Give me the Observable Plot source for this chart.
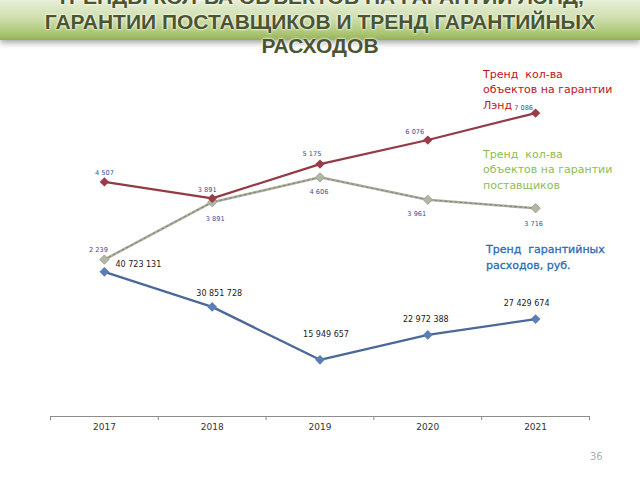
<!DOCTYPE html>
<html><head><meta charset="utf-8">
<script src="https://cdn.jsdelivr.net/npm/d3@7"></script>
<script src="https://cdn.jsdelivr.net/npm/@observablehq/plot@0.6"></script>
<style>
body{margin:0;background:#fff;width:640px;height:480px;overflow:hidden;position:relative;font-family:"DejaVu Sans",sans-serif}
#title{position:relative;height:58px;overflow:hidden}
#banner{position:absolute;left:0;top:0;width:640px;height:40px;background:linear-gradient(to bottom,#e6eed6 0%,#cfdfae 45%,#a9c470 85%,#94b056 100%);box-shadow:0 3px 6px rgba(0,0,0,.35)}
#ttext{position:absolute;left:0;width:640px;top:-15px;text-align:center;font:bold 21px/24.6px "Liberation Sans",Arial,sans-serif;color:#4b5530;text-shadow:0 0 3px #fff,0 0 2px rgba(255,255,255,.9)}
svg{display:block}
.leg{position:absolute;white-space:pre;font-size:11px;line-height:15.3px;font-family:"DejaVu Sans",sans-serif}
#page{position:absolute;left:590px;top:451px;font-size:10px;color:#b0b0b0;font-family:"DejaVu Sans",sans-serif}
</style></head>
<body>
<div id="title"><div id="banner"></div><div id="ttext">ТРЕНДЫ КОЛ-ВА ОБЪЕКТОВ НА ГАРАНТИИ ЛЭНД,<br>ГАРАНТИИ ПОСТАВЩИКОВ И ТРЕНД ГАРАНТИЙНЫХ<br>РАСХОДОВ</div></div>
<div id="chart"></div>
<div class="leg" style="left:483px;top:67px;color:#c0141c">Тренд  кол-ва
объектов на гарантии
Лэнд</div>
<div class="leg" style="left:483px;top:147px;color:#8dbd4f">Тренд  кол-ва
объектов на гарантии
поставщиков</div>
<div class="leg" style="left:486px;top:242px;color:#2b6cb5;line-height:15.7px;-webkit-text-stroke:0.3px #2b6cb5">Тренд  гарантийных
расходов, руб.</div>
<div id="page">36</div>
<script>
// data
const years = [2017, 2018, 2019, 2020, 2021];
const landCounts = [4507, 3891, 5175, 6076, 7086];
const supplierCounts = [2239, 3891, 4606, 3961, 3716];
const warrantyCosts = [40723131, 30851728, 15949657, 22972388, 27429674];
// hidden axes (each series on its own value axis, as in the original)
const costAxis = [0, 100.2e6];
const landAxis = [-4275, 9054];
const supplierAxis = [-2277, 7969];

const bounds = [2016.5, 2017.5, 2018.5, 2019.5, 2020.5, 2021.5];
const fmt = d3.formatLocale({decimal: ",", thousands: " ", grouping: [3], currency: ["", ""]}).format(",d");

function rows(values, axis) {
  const s = d3.scaleLinear().domain(axis).range([0, 1]);
  return years.map((year, i) => ({year, value: values[i], yn: s(values[i]), label: fmt(values[i])}));
}
const land = rows(landCounts, landAxis);
const supp = rows(supplierCounts, supplierAxis);
const cost = rows(warrantyCosts, costAxis);

// label offsets (style)
const landOff = [[0, -9], [-5, -9], [-8, -10], [-13, -8], [-12, -5]];
const suppOff = [[-6, -10], [3, 17], [-1, 15], [-11, 14], [-2, 16]];
const costOff = [[34, -7], [7, -13], [6, -25], [-2, -15], [-9, -16]];

function labels(data, offs, opts) {
  return offs.map(([dx, dy], i) => Plot.text([data[i]], {x: "year", y: "yn", text: "label", dx, dy, lineAnchor: "middle", ...opts}));
}

const chart = Plot.plot({
  width: 640, height: 422,
  marginTop: 2, marginBottom: 64, marginLeft: 50, marginRight: 51,
  x: {type: "linear", domain: [2016.5, 2021.5], label: null},
  y: {domain: [0, 1], axis: null},
  style: {fontFamily: "DejaVu Sans, sans-serif", background: "transparent"},
  marks: [
    Plot.ruleY([0], {stroke: "#8c8c8c", strokeWidth: 1}),
    Plot.axisX({ticks: bounds, tickSize: 4, tickFormat: () => "", stroke: "#8c8c8c"}),
    Plot.axisX({ticks: years, tickSize: 0, tickPadding: 7, tickFormat: d => String(d), fontSize: 9, color: "#333"}),
    // supplier line (grey, textured)
    Plot.line(supp, {x: "year", y: "yn", stroke: "#aeae9f", strokeWidth: 2.6}),
    Plot.line(supp, {x: "year", y: "yn", stroke: "#808074", strokeWidth: 1, strokeDasharray: "2,3"}),
    Plot.dot(supp, {x: "year", y: "yn", symbol: "diamond2", r: 4.2, fill: "#b3b6a3", stroke: "#9a9c8c", strokeWidth: 0.8}),
    // land line
    Plot.line(land, {x: "year", y: "yn", stroke: "#933a45", strokeWidth: 2.2}),
    Plot.dot(land, {x: "year", y: "yn", symbol: "diamond2", r: 4.2, fill: "#9b3a48", stroke: "none"}),
    // cost line
    Plot.line(cost, {x: "year", y: "yn", stroke: "#4a6898", strokeWidth: 2.3}),
    Plot.dot(cost, {x: "year", y: "yn", symbol: "diamond2", r: 4.4, fill: "#5a7fb5", stroke: "none"}),
    ...labels(land, landOff, {fontSize: 6.6, fill: "#3a4ea0"}),
    ...labels(supp, suppOff, {fontSize: 6.6, fill: "#3a4ea0"}),
    ...labels(cost, costOff, {fontSize: 8, fill: "#1a1a1a"})
  ]
});
document.getElementById("chart").appendChild(chart);
</script>
</body></html>
